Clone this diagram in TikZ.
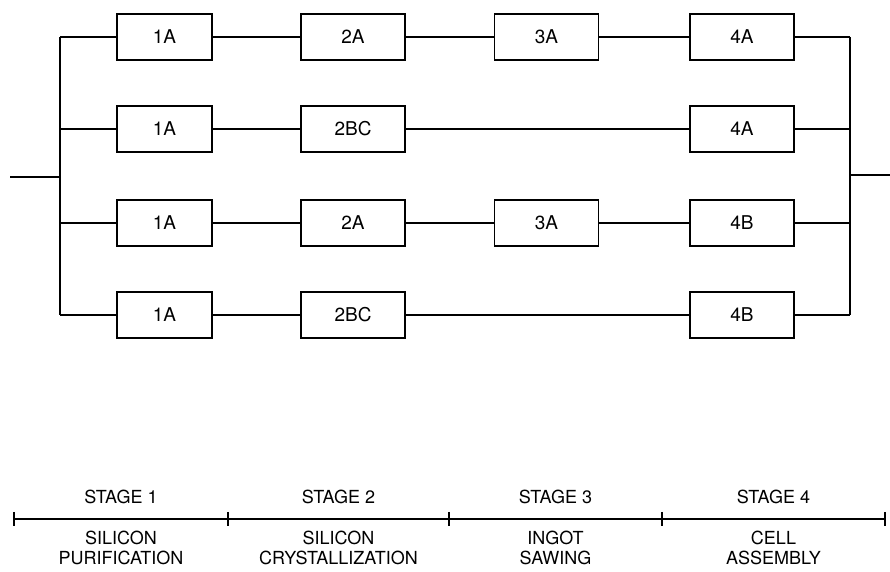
\documentclass[tikz,border=0pt]{standalone}
\usepackage{fontspec}
\setmainfont{TeX Gyre Heros}
\usepackage{tikz}

\tikzset{
  unit/.style={draw, line width=0.9pt, minimum width=52pt, minimum height=23pt,
    inner sep=0pt, font=\fontsize{9.5}{10}\selectfont},
  wire/.style={line width=1.2pt},
  stagetxt/.style={font=\fontsize{9}{10}\selectfont, align=center}
}

\begin{document}
\begin{tikzpicture}[x=0.5pt, y=-0.5pt]
\useasboundingbox (0,0) rectangle (890,572);

% process units, row by row
\node[unit, minimum width=47.5pt] (a1) at (164.5,37) {1A};
\node[unit] (a2) at (353,37) {2A};
\node[unit] (a3) at (546.5,37) {3A};
\node[unit] (a4) at (742,37) {4A};

\node[unit, minimum width=47.5pt] (b1) at (164.5,129) {1A};
\node[unit] (b2) at (353,129) {2BC};
\node[unit] (b4) at (742,129) {4A};

\node[unit, minimum width=47.5pt] (c1) at (164.5,223) {1A};
\node[unit] (c2) at (353,223) {2A};
\node[unit] (c3) at (546.5,223) {3A};
\node[unit] (c4) at (742,223) {4B};

\node[unit, minimum width=47.5pt] (d1) at (164.5,315) {1A};
\node[unit] (d2) at (353,315) {2BC};
\node[unit] (d4) at (742,315) {4B};

% buses
\coordinate (lin) at (10,177);
\coordinate (lbus) at (60,177);
\coordinate (rbus) at (850,175);
\coordinate (rout) at (890,175);
\coordinate (ltop) at (60,37);
\coordinate (lbot) at (60,315);
\coordinate (rtop) at (850,37);
\coordinate (rbot) at (850,315);

\draw[wire] (lin) -- (lbus);
\draw[wire] (ltop) -- (lbot);
\draw[wire] (rtop) -- (rbot);
\draw[wire] (rbus) -- (rout);

% row links
\draw[wire] (ltop) -- (a1.west);
\draw[wire] (a1) -- (a2) -- (a3) -- (a4);
\draw[wire] (a4.east) -- (rtop);

\draw[wire] (60,129) -- (b1.west);
\draw[wire] (b1) -- (b2) -- (b4);
\draw[wire] (b4.east) -- (850,129);

\draw[wire] (60,223) -- (c1.west);
\draw[wire] (c1) -- (c2) -- (c3) -- (c4);
\draw[wire] (c4.east) -- (850,223);

\draw[wire] (lbot) -- (d1.west);
\draw[wire] (d1) -- (d2) -- (d4);
\draw[wire] (d4.east) -- (rbot);

% stage scale
\coordinate (t0) at (14,519);
\coordinate (t1) at (228,519);
\coordinate (t2) at (449,519);
\coordinate (t3) at (662,519);
\coordinate (t4) at (885,519);
\draw[wire] (t0) -- (t4);
\draw[wire] (14,512) -- (14,526);
\draw[wire] (228,512) -- (228,526);
\draw[wire] (449,512) -- (449,526);
\draw[wire] (662,512) -- (662,526);
\draw[wire] (885,512) -- (885,526);

\node[stagetxt] (s1) at (121,497) {STAGE 1};
\node[stagetxt] (s2) at (338.5,497) {STAGE 2};
\node[stagetxt] (s3) at (555.5,497) {STAGE 3};
\node[stagetxt] (s4) at (773.5,497) {STAGE 4};

\node[stagetxt] (n1) at (121,548) {SILICON\\PURIFICATION};
\node[stagetxt] (n2) at (338.5,548) {SILICON\\CRYSTALLIZATION};
\node[stagetxt] (n3) at (555.5,548) {INGOT\\SAWING};
\node[stagetxt] (n4) at (773.5,548) {CELL\\ASSEMBLY};

\end{tikzpicture}
\end{document}
